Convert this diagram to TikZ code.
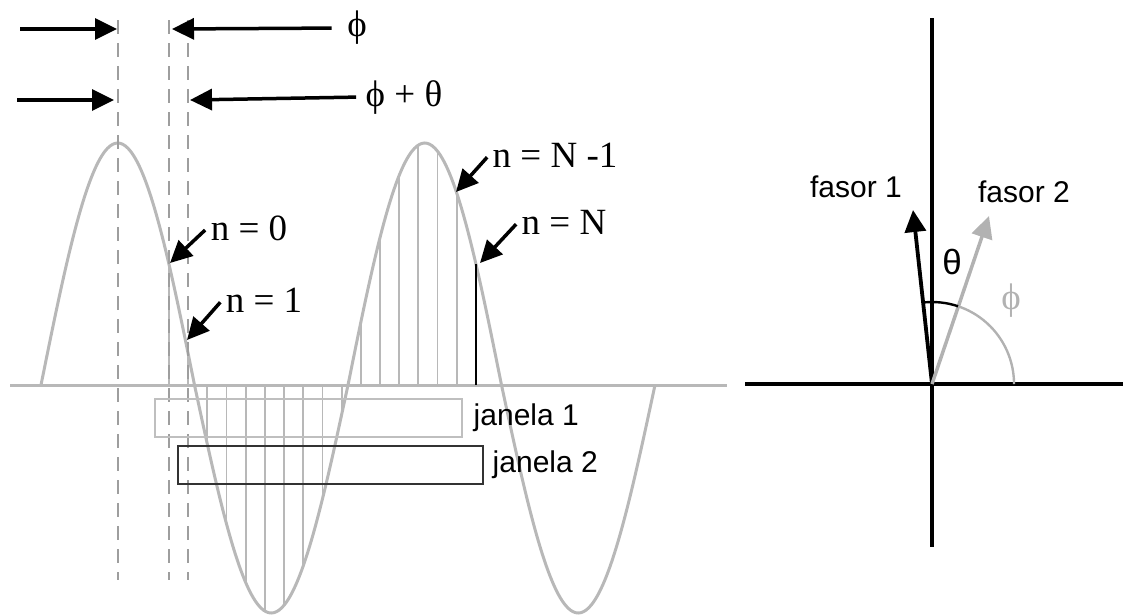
\documentclass[tikz,border=0pt]{standalone}
\usepackage{fontspec}
\setmainfont{Liberation Sans}
\newfontfamily\serifgr{Liberation Serif}
\usetikzlibrary{arrows.meta,positioning}

\begin{document}
\begin{tikzpicture}[
  x=1pt, y=-1pt,
  font=\fontsize{30}{35}\selectfont,
  declare function={wy(\t)=385-235*sin((\t-41)/307*360)-7*abs(sin((\t-41)/307*360));},
  wave/.style={draw=black!28, line width=3pt},
  sampleline/.style={draw=black!28, line width=1.8pt},
  guide/.style={draw=black!38, line width=2.8pt, dash pattern=on 14pt off 9pt},
  ptr/.style={-{Triangle[length=22pt, width=21pt]}, line width=3.5pt},
  ntext/.style={font=\serifgr\fontsize{37}{42}\selectfont},
  window/.style={draw, rectangle, line width=2.4pt, minimum width=307pt, minimum height=38pt, inner sep=0pt},
  axisline/.style={line width=3.3pt}
]
\useasboundingbox (0,0) rectangle (1123,614);

% Time axis and wave
\coordinate (tl) at (10,385);
\coordinate (tr) at (727,385);
\draw[wave] (tl) -- (tr);
\draw[wave] plot[domain=41:655, samples=241, smooth] (\x, {wy(\x)});

% Samples n = 0 ... N
\foreach \k in {0,...,15}
  \draw[sampleline] ({168.9+19.19*\k}, {wy(168.9+19.19*\k)}) -- ({168.9+19.19*\k}, 385);
\draw[sampleline, draw=black, line width=2.4pt] (476,{wy(476)}) -- (476,385);

% Dashed guides
\foreach \gx/\gn in {118/peak, 169/ph, 188/pt} {
  \coordinate (\gn-top) at (\gx,20);
  \coordinate (\gn-bot) at (\gx,580);
  \draw[guide] (\gn-top) -- (\gn-bot);
}

% Phase arrows at top
\coordinate (a1) at (20,29);
\coordinate (a2) at (17,100);
\coordinate (p1) at (117,29);
\coordinate (p2) at (114,100);
\coordinate (q1) at (172,29);
\coordinate (q2) at (190,100);
\node[ntext] (phi) at (357,28) {ϕ};
\node[ntext] (phith) at (404,97) {ϕ + θ};
\draw[ptr, shorten <=12pt] (phi.west) -- (q1);
\draw[ptr, shorten <=6pt] (phith.west) -- (q2);
\draw[ptr] (a1) -- (p1);
\draw[ptr] (a2) -- (p2);

% Sample labels
\node[ntext] (nzero) at (249,228) {n = 0};
\node[ntext] (none) at (264,300) {n = 1};
\node[ntext] (nlast) at (555,155) {n = N -1};
\node[ntext] (nend) at (564,222) {n = N};
\coordinate (s0) at (170,263);
\coordinate (s1) at (187,340);
\coordinate (s15) at (456,192);
\coordinate (s16) at (480,263);
\draw[ptr, shorten <=3pt] (nzero.west) -- (s0);
\draw[ptr, shorten <=3pt] (none.west) -- (s1);
\draw[ptr, shorten <=3pt] (nlast.west) -- (s15);
\draw[ptr, shorten <=3pt] (nend.west) -- (s16);

% Windows
\node[window, draw=black!25] (win1) at (308.5,418) {};
\node[window, draw=black!80, minimum width=305pt] (win2) at (330.5,465) {};
\node[right=7pt of win1] (jan1) {janela 1};
\node[right=5pt of win2] (jan2) {janela 2};

% Phasor plane
\coordinate (O) at (932,384);
\coordinate (vt) at (932,18);
\coordinate (vb) at (932,547);
\coordinate (hl) at (745,384);
\coordinate (hr) at (1123,384);
\draw[axisline] (vt) -- (vb);
\draw[axisline] (hl) -- (hr);
\coordinate (f1) at (913,210);
\coordinate (f2) at (989,216);
\draw[ptr, line width=3.8pt] (O) -- (f1);
\draw[ptr, black!30] (O) -- (f2);
\draw[line width=2.4pt] (O) ++(-95.9:82) arc[start angle=-95.9, end angle=-71.3, radius=82];
\draw[line width=2.4pt, black!30] (O) ++(-71.3:82) arc[start angle=-71.3, end angle=0, radius=82];
\node (fas1) at (856,187) {fasor 1};
\node (fas2) at (1024,192) {fasor 2};
\node[font=\fontsize{35}{40}\selectfont] (th) at (952,262) {θ};
\node[ntext, text=black!30] (phl) at (1011,301) {ϕ};

\end{tikzpicture}
\end{document}
